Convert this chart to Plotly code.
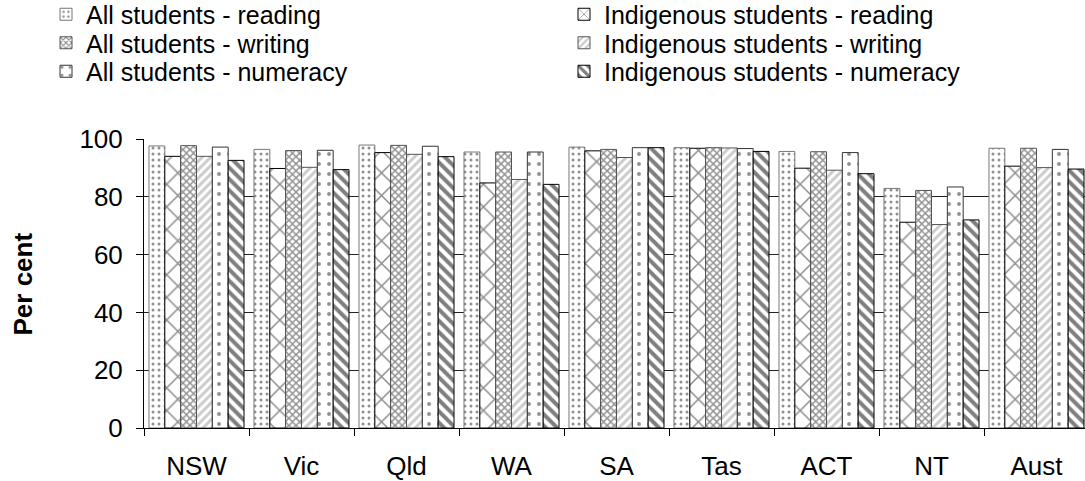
import plotly.graph_objects as go

categories = ["NSW", "Vic", "Qld", "WA", "SA", "Tas", "ACT", "NT", "Aust"]

all_reading = [97.6, 96.4, 97.9, 95.5, 97.2, 97.0, 95.7, 82.9, 96.8]
indig_reading = [94.0, 89.8, 95.3, 84.8, 95.9, 96.8, 89.9, 71.2, 90.6]
all_writing = [97.7, 96.0, 97.8, 95.5, 96.4, 97.0, 95.6, 82.2, 96.8]
indig_writing = [94.0, 90.2, 94.7, 86.0, 93.6, 96.9, 89.2, 70.4, 90.1]
all_numeracy = [97.2, 96.1, 97.5, 95.5, 97.0, 96.7, 95.3, 83.4, 96.4]
indig_numeracy = [92.6, 89.4, 93.9, 84.3, 97.0, 95.7, 88.0, 72.0, 89.6]

series_names = [
    "All students - reading",
    "Indigenous students - reading",
    "All students - writing",
    "Indigenous students - writing",
    "All students - numeracy",
    "Indigenous students - numeracy",
]
series_values = [all_reading, indig_reading, all_writing, indig_writing, all_numeracy, indig_numeracy]

styles = [
    dict(shape=".", fgcolor="#222222", bgcolor="white", size=6, solidity=0.2, line="#777777"),
    dict(shape="x", fgcolor="#1a1a1a", bgcolor="white", size=16, solidity=0.18, line="#000000"),
    dict(shape="x", fgcolor="#2a2a2a", bgcolor="white", size=5, solidity=0.5, line="#555555"),
    dict(shape="/", fgcolor="#999999", bgcolor="white", size=6, solidity=0.5, line="#555555"),
    dict(shape=".", fgcolor="#222222", bgcolor="white", size=10, solidity=0.12, line="#333333"),
    dict(shape="\\", fgcolor="#000000", bgcolor="white", size=8, solidity=0.5, line="#000000"),
]

FONT = "Liberation Sans, Arial, sans-serif"
FS = 26
LEG_FS = 25

W, H = 1085, 481
L, R, T, B = 144, 0, 139, 53
plot_w = W - L - R
cat_w = 105.0

# legend placement (container pixels): two columns, three rows
legend_ids = ["legend", "legend2", "legend3", "legend4", "legend5", "legend6"]
col_x = [46, 564]
row_y = [14.5, 43, 71.5]

fig = go.Figure()
for i, (name, vals, st) in enumerate(zip(series_names, series_values, styles)):
    fig.add_trace(go.Bar(
        name=name,
        x=categories,
        y=vals,
        legend=legend_ids[i],
        marker=dict(
            color=st["bgcolor"],
            line=dict(color=st["line"], width=1),
            pattern=dict(shape=st["shape"], fgcolor=st["fgcolor"], bgcolor=st["bgcolor"],
                         size=st["size"], solidity=st["solidity"], fillmode="overlay"),
        ),
    ))

legend_layout = {}
for i, lid in enumerate(legend_ids):
    col = i % 2
    row = i // 2
    legend_layout[lid] = dict(
        xref="container", yref="container",
        x=col_x[col] / W, y=1 - row_y[row] / H,
        xanchor="left", yanchor="middle",
        orientation="v",
        font=dict(family=FONT, size=LEG_FS, color="black"),
        bgcolor="rgba(0,0,0,0)", borderwidth=0,
    )

fig.update_layout(
    width=W, height=H,
    margin=dict(l=L, r=R, t=T, b=B, pad=0, autoexpand=False),
    paper_bgcolor="white", plot_bgcolor="white",
    barmode="group", bargap=0.095, bargroupgap=0,
    font=dict(family=FONT, size=FS, color="black"),
    showlegend=True,
    xaxis=dict(
        type="category",
        range=[-0.5, -0.5 + plot_w / cat_w],
        tickson="boundaries",
        ticks="outside", ticklen=7, tickcolor="black", tickwidth=1,
        showline=True, linecolor="black", linewidth=1,
        showgrid=False,
        ticklabelstandoff=15,
        tickfont=dict(family=FONT, size=FS, color="black"),
    ),
    yaxis=dict(
        range=[0, 100],
        tickvals=[0, 20, 40, 60, 80, 100],
        ticks="outside", ticklen=7, tickcolor="black", tickwidth=1,
        showline=True, linecolor="black", linewidth=1,
        showgrid=True, gridcolor="#222222", gridwidth=1,
        zeroline=False,
        ticklabelstandoff=8,
        tickfont=dict(family=FONT, size=FS, color="black"),
    ),
    annotations=[dict(
        text="<b>Per cent</b>",
        xref="paper", yref="paper",
        x=(22 - L) / plot_w, y=0.5,
        xanchor="center", yanchor="middle",
        textangle=-90, showarrow=False,
        font=dict(family=FONT, size=FS, color="black"),
    )],
    **legend_layout,
)

fig.write_html(
    "out.html",
    config={"displayModeBar": False},
    post_script="document.body.style.margin='0';document.body.style.overflow='hidden';",
)
